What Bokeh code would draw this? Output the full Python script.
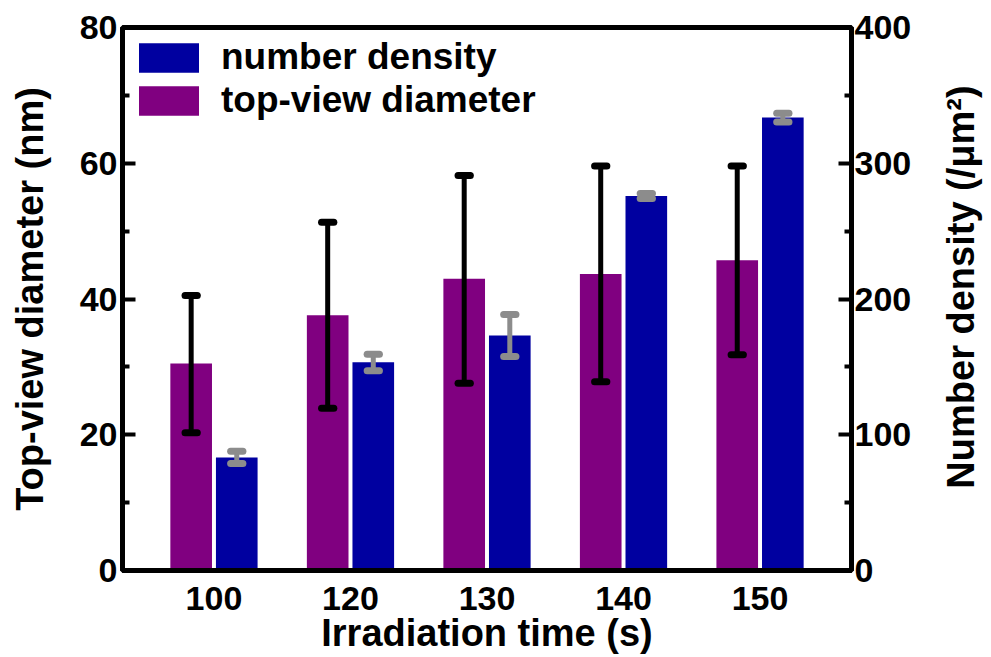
import math
from bokeh.plotting import figure
from bokeh.models import (Range1d, LinearAxis, FixedTicker, Legend, LegendItem,
                          ColumnDataSource, Label)
from bokeh.transform import dodge
from bokeh.embed import file_html
from bokeh.resources import INLINE

# ---- data ----
times = ["100", "120", "130", "140", "150"]
diameter = [30.5, 37.6, 43.0, 43.7, 45.7]
diam_lo = [20.3, 23.9, 27.6, 27.8, 31.8]
diam_hi = [40.5, 51.3, 58.2, 59.6, 59.6]
density = [83.3, 153.4, 173.1, 275.8, 333.7]
dens_lo = [78.8, 147.2, 157.6, 274.1, 330.4]
dens_hi = [87.9, 159.3, 188.6, 277.7, 336.8]
left_ticks = [0, 20, 40, 60, 80]
left_minor = [10, 30, 50, 70]
right_ticks = [0, 100, 200, 300, 400]
right_minor = [50, 150, 250, 350]

PURPLE = "#800080"
BLUE = "#0000A0"
GRAY = "#8C8C8C"
FONT = "Liberation Sans"
RIGHT_TITLE = "Number density (/\u03bcm\u00b2)"

xs = list(range(len(times)))
src = ColumnDataSource(dict(x=xs, diameter=diameter, dlo=diam_lo, dhi=diam_hi,
                            density=density, nlo=dens_lo, nhi=dens_hi))

PAD = 0.67
p = figure(width=990, height=656, output_backend="svg", toolbar_location=None,
           x_range=Range1d(-PAD, len(times) - 1 + PAD),
           y_range=Range1d(left_ticks[0], left_ticks[-1]),
           min_border_left=122, min_border_right=139, min_border_top=27,
           min_border_bottom=86)
p.extra_y_ranges = {"dens": Range1d(right_ticks[0], right_ticks[-1])}
p.xgrid.visible = False
p.ygrid.visible = False
p.outline_line_color = "black"
p.outline_line_width = 5
p.background_fill_color = "white"
p.border_fill_color = "white"

OFF = 0.167
BW = 0.305
CAP = 0.045

r_diam = p.vbar(x=dodge("x", -OFF), top="diameter", bottom=0, width=BW, source=src,
                fill_color=PURPLE, line_color=None)
r_dens = p.vbar(x=dodge("x", OFF), top="density", bottom=0, width=BW, source=src,
                fill_color=BLUE, line_color=None, y_range_name="dens")

# error bars: diameter (black)
p.segment(x0=dodge("x", -OFF), x1=dodge("x", -OFF), y0="dlo", y1="dhi", source=src,
          line_color="black", line_width=5)
for col in ["dlo", "dhi"]:
    p.segment(x0=dodge("x", -OFF - CAP), x1=dodge("x", -OFF + CAP), y0=col, y1=col,
              source=src, line_color="black", line_width=7, line_cap="round")
# error bars: density (gray)
p.segment(x0=dodge("x", OFF), x1=dodge("x", OFF), y0="nlo", y1="nhi", source=src,
          line_color=GRAY, line_width=5, y_range_name="dens")
for col in ["nlo", "nhi"]:
    p.segment(x0=dodge("x", OFF - CAP), x1=dodge("x", OFF + CAP), y0=col, y1=col,
              source=src, line_color=GRAY, line_width=7, line_cap="round",
              y_range_name="dens")

# axes
xa = p.xaxis[0]
xa.ticker = FixedTicker(ticks=xs)
xa.major_label_overrides = {i: t for i, t in zip(xs, times)}
xa.axis_label = "Irradiation time (s)"
xa.major_tick_line_color = None
xa.minor_tick_line_color = None
xa.axis_line_width = 5
xa.major_label_standoff = 10
xa.axis_label_standoff = -1

ya = p.yaxis[0]
ya.ticker = FixedTicker(ticks=left_ticks, minor_ticks=left_minor)
ya.axis_label = "Top-view diameter (nm)"
ya.major_label_standoff = 5
ya.axis_label_standoff = 26

yr = LinearAxis(y_range_name="dens",
                ticker=FixedTicker(ticks=right_ticks, minor_ticks=right_minor))
yr.major_label_standoff = 3
p.add_layout(yr, "right")

for ax in [ya, yr]:
    ax.axis_line_width = 5
    ax.major_tick_in = 13
    ax.major_tick_out = 0
    ax.major_tick_line_width = 4
    ax.minor_tick_in = 7
    ax.minor_tick_out = 0
    ax.minor_tick_line_width = 4

for ax in [xa, ya, yr]:
    ax.major_label_text_font = FONT
    ax.major_label_text_font_style = "bold"
    ax.major_label_text_font_size = "34px"
    ax.major_label_text_color = "black"
    ax.axis_label_text_font = FONT
    ax.axis_label_text_font_style = "bold"
    ax.axis_label_text_font_size = "38px"
    ax.axis_label_text_color = "black"
    ax.axis_line_color = "black"

# right axis title, reading bottom to top (side panel, so it is not clipped)
right_title = Label(x=p.x_range.end, y=(left_ticks[0] + left_ticks[-1]) / 2,
                    x_offset=109, y_offset=12, angle=math.pi / 2,
                    text=RIGHT_TITLE, text_font=FONT, text_font_style="bold",
                    text_font_size="38px", text_color="black",
                    text_align="center", text_baseline="middle")
p.add_layout(right_title, "right")

legend = Legend(items=[LegendItem(label="number density", renderers=[r_dens]),
                       LegendItem(label="top-view diameter", renderers=[r_diam])],
                location="top_left", margin=9, padding=0, spacing=1,
                glyph_width=75, glyph_height=37, label_standoff=15,
                label_text_font=FONT, label_text_font_style="bold",
                label_text_font_size="37px", label_text_color="black",
                label_height=40,
                border_line_color=None, background_fill_alpha=0)
p.add_layout(legend)

open("out.html", "w").write(file_html(p, INLINE))
